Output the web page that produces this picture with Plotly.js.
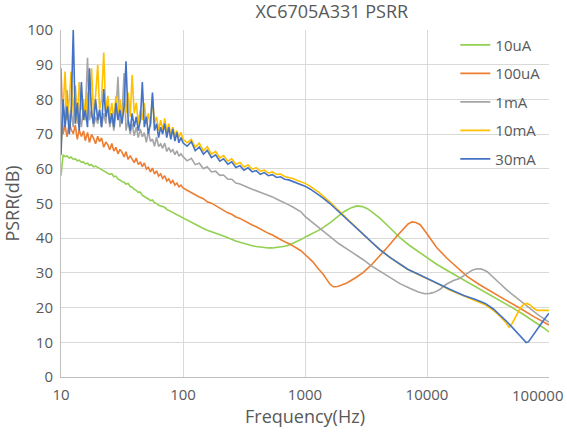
<!DOCTYPE html>
<html>
<head>
<meta charset="utf-8">
<script src="https://cdn.plot.ly/plotly-3.0.1.min.js"></script>
<style>html,body{margin:0;padding:0;background:#fff;}#chart{width:567px;height:432px;}</style>
</head>
<body>
<div id="chart"></div>
<script>
// Frequencies (Hz) for the low-frequency (measured, noisy) region shared by all series
const freqLow = [10,10.4,10.8,11.2,11.7,12.1,12.6,13.1,13.6,14.1,14.7,15.3,15.8,16.5,17.1,17.8,18.5,19.2,20,20.7,
  21.5,22.4,23.3,24.2,25.1,26.1,27.1,28.2,29.3,30.4,31.6,32.9,34.1,35.5,36.9,38.3,39.8,41.4,43,44.7,
  46.4,48.2,50.1,52,54.1,56.2,58.4,60.7,63.1,65.6,68.1,70.8,73.6,76.4,79.4,82.5,85.8,89.1,92.6,96.2,
  100,108,117,126,136,147,158,171,185,200,215,233,251,271,293,316,341,369,398,430,
  464,501,541,584,631,681,736,794,858,926];

const seriesNames = ['10uA','100uA','1mA','10mA','30mA'];

// 10uA
const green_low = [58,64,63.5,63.7,63.1,63.4,62.7,62.9,62.3,62.5,
  61.9,62,61.4,61.6,61,61.2,60.6,60.8,60.4,60.1,
  59.8,59.5,59.1,58.9,58.4,58.6,57.7,57.9,57,56.8,
  56.3,56.1,55.6,55.8,54.9,54.7,54.1,53.8,53.2,53.3,
  52.3,52,51.5,51.3,50.8,51,50.2,50,49.5,49.3,
  48.9,48.9,48.3,48,47.6,47.4,47,46.8,46.4,46.1,
  45.8,45.1,44.5,43.9,43.3,42.8,42.3,41.9,41.5,41.1,
  40.6,40.1,39.6,39.2,38.8,38.4,38.1,37.8,37.6,37.4,
  37.3,37.2,37.2,37.3,37.5,37.7,38,38.5,39,39.6];
const green_highF = [1000,1150,1350,1600,1850,2100,2400,2670,2950,3250,3600,4100,4700,5400,6200,7200,8500,10000,12000,15500,20000,25000,30000,40000,50000,60000,70000,80000,90000,100000];
const green_highV = [40.3,41.4,42.6,44.4,46.2,47.7,48.8,49.3,49.1,48.5,47.4,45.8,43.8,41.6,39.7,37.9,36.1,34.4,32.5,30.2,28,26.2,24.6,22,20,18.3,16.8,15.5,14.2,13];

// 100uA
const orange_low = [89,70,72.5,69.2,73.2,71.4,70.1,72.6,68.5,71.2,
  69.3,70.9,68.1,70.5,67.6,69.9,68.8,67.2,69.4,67.8,
  68.9,66.2,67.7,66.9,65.5,67.3,65.1,66.2,64.3,65.6,
  64.8,63.4,64.9,62.7,63.8,62.9,61.8,63.1,61.2,62,
  60.6,61.7,59.9,60.4,59.1,60.2,58.5,59.4,57.9,58.5,
  57.2,58,56.5,57.1,55.9,56.6,55.3,55.9,54.8,55.3,
  54.5,53.8,53.1,52.6,51.9,51.4,50.5,50.1,49.4,48.7,
  48.2,47.3,46.9,46.1,45.7,45,44.5,43.8,43.3,42.6,
  42.1,41.4,40.9,40.2,39.7,39,38.5,37.8,37.1,36.4];
const orange_highF = [1000,1160,1300,1410,1500,1600,1706,1850,2000,2200,2600,2990,3500,4120,4800,5600,6500,7000,7540,8100,8800,9500,10000,10600,12000,14500,17500,21300,27000,35000,45000,58000,75000,100000];
const orange_highV = [35.3,33.2,31,29.6,28.2,26.8,26,26.1,26.5,27.1,28.6,30.1,32.3,34.9,37.6,40.4,43,44.1,44.7,44.5,43.9,42.5,41.3,40,37.3,34.3,31.8,29,26.6,24.2,22,19.8,17.4,15];

// 1mA
const gray_low = [70,78,74,82.7,73,77,72,84,74,76,
  72,78,75,92,74,77,72,75,73,77,
  72,76,73,79.8,72,75,71,76,86.5,72,
  75,87.6,71,74,70,73,69.5,72,69,71.5,
  69.2,70.4,67.6,70.8,67.9,68.6,66.5,69.1,66.4,67.2,
  65.9,67.4,65,66.1,64.9,65.5,64.1,65.2,63.6,64.3,
  63.5,62.3,63,61.2,61.6,60,60.6,59.1,59.3,58.1,
  58.2,57,57,55.9,55.6,55,54.6,54.1,53.7,53.2,
  52.8,52.3,51.9,51.3,50.8,50.2,49.6,49,48.3,47.6];
const gray_highF = [1000,1150,1350,1600,1900,2300,2640,3000,3500,4100,5000,6000,7300,8500,9600,10600,11500,12800,14500,16500,18500,21000,23500,25600,28000,31000,35000,40000,45000,50700,60000,69600,80000,90000,100000];
const gray_highV = [46.3,44.6,42.5,40.4,38.4,36.5,35.2,33.8,32,30.5,28.6,26.9,25.5,24.5,24,24.1,24.4,25.3,26.8,27.8,28.4,29.6,30.8,31.2,31.1,30.4,28.8,26.8,25.1,23.6,21.6,19.7,18.1,16.9,15.8];

// 10mA
const yellow_low = [66,78,88,74,80,88,76,82,73,85,
  77,80,74,82,78,89,75,81,90,77,
  80,93.5,76,81,75,79,74,81,76,80,
  75,79,76,82,75,87,76,79,73,77,
  74,79,73,76,72,81,73,75,71,74,
  71,74.5,70.5,73,70,72,69.5,71,69,70.5,
  68.5,67.5,68.5,66.2,67.4,65.1,66.4,64.2,65,63.1,
  63.8,62.2,62.9,61.3,61.8,60.5,61.1,59.9,60.3,59.3,
  59.6,58.8,59.1,58.4,58.5,57.8,57.6,57.2,56.7,56.3];
const yellow_highF = [1000,1100,1200,1300,1400,1600,1800,2000,2300,2600,3000,3500,4100,5000,6000,7000,8500,10000,12500,15500,20000,25000,30000,35000,40000,44000,47000,50000,54000,58000,62000,66000,70000,75000,80000,90000,100000];
const yellow_highV = [55.8,55,54.1,53.2,52.2,50.5,48.7,47.1,45,43.3,41.1,38.9,36.8,34.4,32.5,31,29.5,28.4,26.7,25,23.3,22,20.8,19.2,17.4,15.8,14.3,15.5,17.8,19.8,20.9,21.2,20.8,19.8,19.2,19.1,19.2];

// 30mA
const blue_low = [64,80,72,78,70,76,100,73,79,71,
  85,74,77,72,89,76,73,80,74,77,
  72,83,75,78,73,76,72,79,74,77,
  73,78,91,74,71,76,72,75,71,74,
  85,72,75,70,73,82,71,73,69,72,
  70,73,69,72,68.5,71.5,68,70.5,67.5,69,
  67.5,66.5,67.8,65.2,66.3,64.2,65.3,63.2,64,62.2,
  62.9,61.3,62,60.4,60.9,59.6,60.3,59.1,59.5,58.4,
  58.9,58,58.3,57.5,57.7,57,56.8,56.4,55.9,55.5];
const blue_highF = [1000,1100,1200,1300,1400,1600,1800,2000,2300,2600,3000,3500,4100,5000,6000,7000,8500,10000,12500,15500,20000,25000,30000,35000,40000,45000,50000,55000,60000,65000,68000,72000,80000,90000,100000];
const blue_highV = [55,54.2,53.3,52.5,51.6,50,48.3,46.8,44.8,43.2,41,38.8,36.7,34.4,32.5,31,29.6,28.5,26.8,25.2,23.5,22.3,21.2,19.6,17.8,16,14.3,12.6,11,9.9,10.2,11.5,13.8,16.3,18.4];

const xTickVals = [10,100,1000,10000,100000];
const xTickLabels = ['10','100','1000','10000','100000'];

const colors = ['#92D050','#ED7D31','#A5A5A5','#FFC000','#4472C4'];
const lows = [green_low, orange_low, gray_low, yellow_low, blue_low];
const highF = [green_highF, orange_highF, gray_highF, yellow_highF, blue_highF];
const highV = [green_highV, orange_highV, gray_highV, yellow_highV, blue_highV];

const traces = seriesNames.map((name, k) => ({
  type: 'scatter',
  mode: 'lines',
  name: name,
  legendgroup: 'g' + k,
  x: freqLow.concat(highF[k]),
  y: lows[k].concat(highV[k]),
  line: {color: colors[k], width: 1.6},
  hoverinfo: 'skip'
}));

const font = 'Open Sans, sans-serif';
const txt = '#595959';
const last = xTickLabels.length - 1;
// the last label sits at the right edge; it is drawn right-aligned to stay inside the chart, like the reference
const tickText = xTickLabels.map((t, i) => i === last ? '' : t);

const layout = {
  width: 567, height: 432,
  margin: {l: 61, r: 18, t: 30, b: 55},
  paper_bgcolor: '#fff', plot_bgcolor: '#fff',
  font: {family: font, color: txt},
  title: {text: 'XC6705A331 PSRR', font: {family: font, size: 18, color: txt},
          x: 0.555, xref: 'paper', xanchor: 'center', y: 0.972, yref: 'container', yanchor: 'middle'},
  showlegend: true,
  legend: {x: 0.808, y: 1.004, xanchor: 'left', yanchor: 'top', bgcolor: 'rgba(0,0,0,0)',
           font: {family: font, size: 15, color: txt}, tracegroupgap: 6, itemwidth: 30},
  xaxis: {type: 'log', range: [1, 5], tickmode: 'array', tickvals: xTickVals, ticktext: tickText,
          showgrid: true, gridcolor: '#D9D9D9', gridwidth: 1, showline: true, linecolor: '#BFBFBF', linewidth: 1,
          ticks: '', zeroline: false, automargin: false, ticklabelstandoff: 4,
          tickfont: {family: font, size: 15, color: txt},
          title: {text: 'Frequency(Hz)', font: {family: font, size: 18, color: txt}, standoff: 6}},
  yaxis: {range: [0, 100], tick0: 0, dtick: 10, showgrid: true, gridcolor: '#D9D9D9', gridwidth: 1,
          showline: true, linecolor: '#BFBFBF', linewidth: 1, ticks: '', zeroline: false, automargin: false,
          ticklabelstandoff: 4,
          tickfont: {family: font, size: 15, color: txt},
          title: {text: 'PSRR(dB)', font: {family: font, size: 18, color: txt}, standoff: 6}},
  annotations: [{
    text: xTickLabels[last], x: Math.log10(xTickVals[last]), xref: 'x', y: 0, yref: 'paper',
    xanchor: 'right', yanchor: 'top', xshift: 16, yshift: -6, showarrow: false,
    font: {family: font, size: 15, color: txt}
  }]
};

Plotly.newPlot('chart', traces, layout, {staticPlot: true, displayModeBar: false});
</script>
</body>
</html>
